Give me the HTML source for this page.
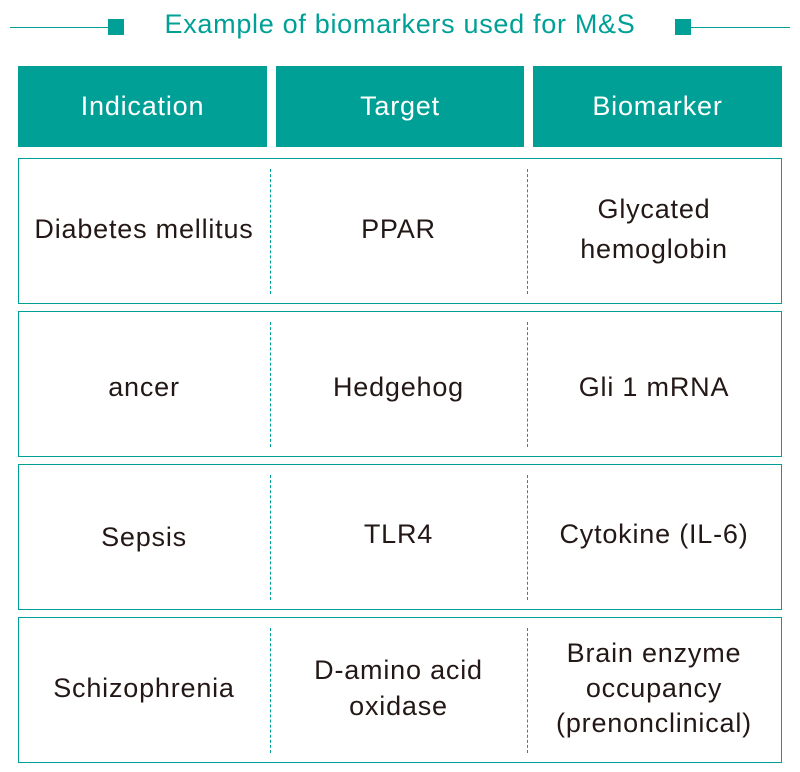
<!DOCTYPE html>
<html><head><meta charset="utf-8"><style>
body{margin:0;width:800px;height:772px;background:#fff;position:relative;font-family:"Liberation Sans",sans-serif;overflow:hidden}
.a{position:absolute}
.t{position:absolute;display:flex;align-items:center;justify-content:center;text-align:center;color:#231815;font-size:27px;letter-spacing:0.8px;line-height:36px}
.h{position:absolute;background:#00a096;color:#fff;display:flex;align-items:center;justify-content:center;font-size:27px;letter-spacing:0.8px;top:66px;height:81px}
.row{position:absolute;left:18px;width:764px;border:1px solid #00a096;box-sizing:border-box}
.d{position:absolute;width:0;border-left:1px dashed #00a096}
</style></head><body>
<div class="a" style="left:10px;top:27px;width:100px;height:1px;background:#00a096"></div>
<div class="a" style="left:108px;top:19px;width:16px;height:16px;background:#00a096"></div>
<div class="a" style="left:675px;top:19px;width:16px;height:16px;background:#00a096"></div>
<div class="a" style="left:690px;top:27px;width:100px;height:1px;background:#00a096"></div>
<div class="a" style="left:100px;width:600px;top:6px;text-align:center;color:#00a096;font-size:27px;letter-spacing:0.7px;line-height:36px">Example of biomarkers used for M&amp;S</div>
<div class="h" style="left:18px;width:249px">Indication</div>
<div class="h" style="left:276px;width:248px">Target</div>
<div class="h" style="left:533px;width:249px">Biomarker</div>

<div class="row" style="top:158px;height:146px"></div>
<div class="row" style="top:311px;height:146px"></div>
<div class="row" style="top:464px;height:146px"></div>
<div class="row" style="top:617px;height:146px"></div>
<div class="d" style="left:270px;top:169px;height:125px"></div><div class="d" style="left:527px;top:169px;height:125px"></div>
<div class="d" style="left:270px;top:322px;height:125px"></div><div class="d" style="left:527px;top:322px;height:125px"></div>
<div class="d" style="left:270px;top:475px;height:125px"></div><div class="d" style="left:527px;top:475px;height:125px"></div>
<div class="d" style="left:270px;top:628px;height:125px"></div><div class="d" style="left:527px;top:628px;height:125px"></div>

<div class="t" style="left:18px;width:252px;top:158px;height:142px">Diabetes mellitus</div>
<div class="t" style="left:270px;width:257px;top:158px;height:142px">PPAR</div>
<div class="t" style="left:527px;width:254px;top:158px;height:142px;line-height:40px">Glycated<br>hemoglobin</div>

<div class="t" style="left:18px;width:252px;top:311px;height:152px">ancer</div>
<div class="t" style="left:270px;width:257px;top:311px;height:152px">Hedgehog</div>
<div class="t" style="left:527px;width:254px;top:311px;height:152px">Gli 1 mRNA</div>

<div class="t" style="left:18px;width:252px;top:464px;height:146px">Sepsis</div>
<div class="t" style="left:270px;width:257px;top:464px;height:140px">TLR4</div>
<div class="t" style="left:527px;width:254px;top:464px;height:140px">Cytokine (IL-6)</div>

<div class="t" style="left:18px;width:252px;top:617px;height:142px">Schizophrenia</div>
<div class="t" style="left:270px;width:257px;top:617px;height:142px">D-amino acid<br>oxidase</div>
<div class="t" style="left:527px;width:254px;top:617px;height:142px;line-height:35px">Brain enzyme<br>occupancy<br>(prenonclinical)</div>
</body></html>
